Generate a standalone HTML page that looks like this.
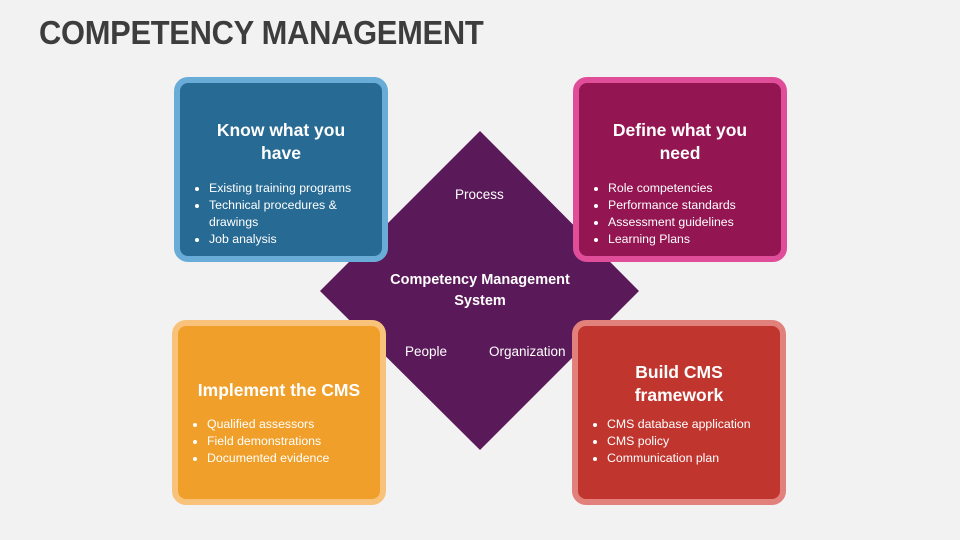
<!DOCTYPE html>
<html><head><style>
body{margin:0;width:960px;height:540px;background:#f2f2f2;position:relative;overflow:hidden;font-family:"Liberation Sans",sans-serif;}
h1{position:absolute;left:39px;top:14px;margin:0;font-size:33px;font-weight:bold;color:#3d3d3d;letter-spacing:-0.3px;transform:scaleX(0.935);transform-origin:left top}
.box{position:absolute;width:202px;height:173px;border:6px solid;border-radius:14px;color:#fff;box-sizing:content-box}
.t{position:absolute;left:0;right:0;text-align:center;font-weight:bold;font-size:17.5px;line-height:23px}
ul{position:absolute;left:10px;margin:0;padding:0 0 0 19px;font-size:12.3px;line-height:17px}
.lbl{position:absolute;color:#fff;font-size:13.5px}
</style></head><body>
<h1>COMPETENCY MANAGEMENT</h1>
<svg style="position:absolute;left:0;top:0" width="960" height="540">
<polygon points="480,131 639,291 480,450 320,291" fill="#5a1958"/>
</svg>
<div class="lbl" style="left:455px;top:187px">Process</div>
<div class="lbl" style="left:380px;top:270px;width:200px;text-align:center;font-weight:bold;font-size:14.5px;line-height:21px">Competency Management System</div>
<div class="lbl" style="left:405px;top:344px">People</div>
<div class="lbl" style="left:489px;top:344px">Organization</div>

<div class="box" style="left:174px;top:77px;border-color:#69acd8;background:#276a93">
<div class="t" style="top:36px">Know what you<br>have</div>
<ul style="top:97px"><li>Existing training programs</li><li>Technical procedures &amp; drawings</li><li>Job analysis</li></ul></div>

<div class="box" style="left:573px;top:77px;border-color:#e04e99;background:#931551">
<div class="t" style="top:36px">Define what you<br>need</div>
<ul style="top:97px"><li>Role competencies</li><li>Performance standards</li><li>Assessment guidelines</li><li>Learning Plans</li></ul></div>

<div class="box" style="left:172px;top:320px;border-color:#f9c27b;background:#f0a02a">
<div class="t" style="top:53px">Implement the CMS</div>
<ul style="top:90px"><li>Qualified assessors</li><li>Field demonstrations</li><li>Documented evidence</li></ul></div>

<div class="box" style="left:572px;top:320px;border-color:#e2807b;background:#c0362f">
<div class="t" style="top:35px">Build CMS<br>framework</div>
<ul style="top:90px"><li>CMS database application</li><li>CMS policy</li><li>Communication plan</li></ul></div>
</body></html>
